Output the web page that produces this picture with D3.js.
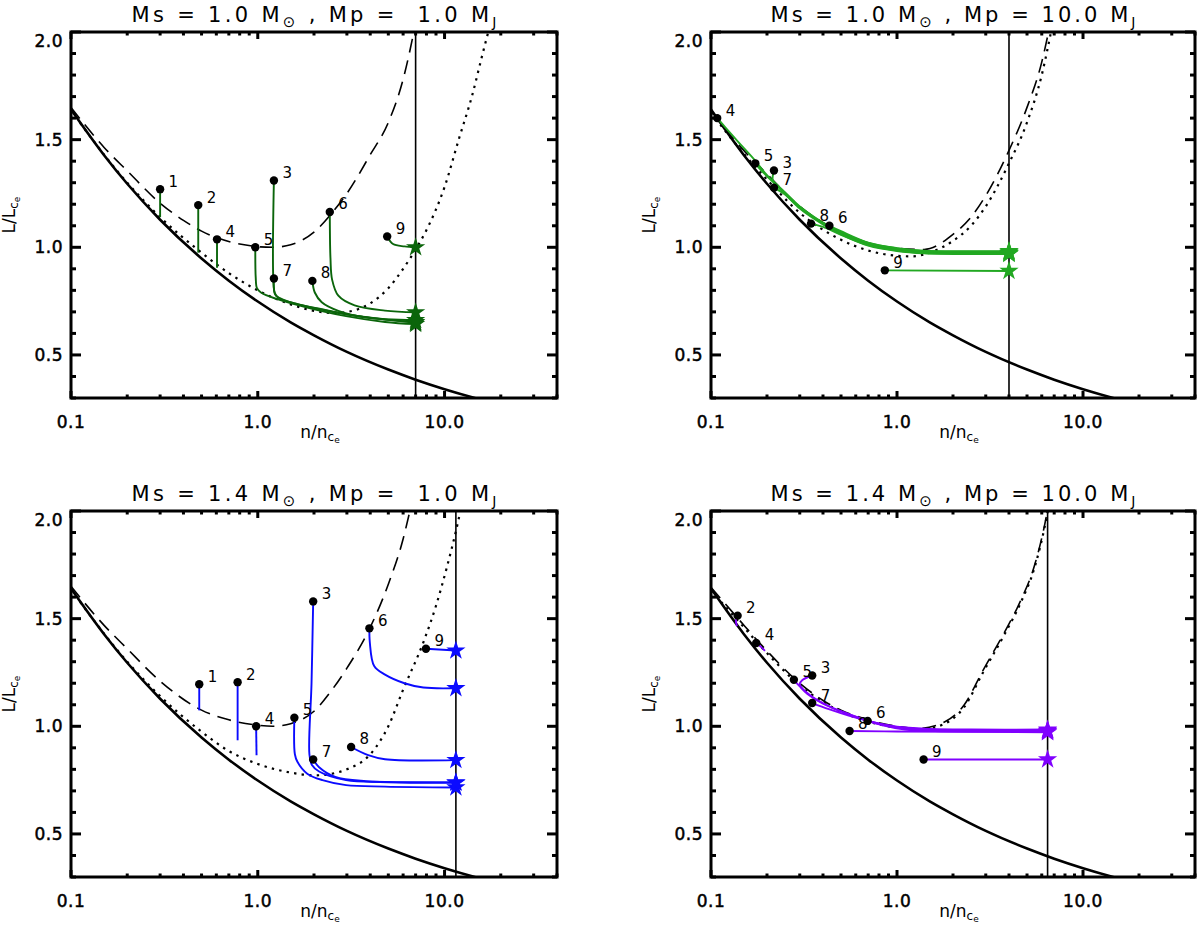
<!DOCTYPE html>
<html>
<head>
<meta charset="utf-8">
<script src="https://cdn.jsdelivr.net/npm/d3@7"></script>
<style>
body { margin: 0; background: #fff; }
svg { display: block; font-family: "DejaVu Sans", sans-serif; }
text { white-space: pre; }
</style>
</head>
<body>
<svg width="1200" height="941"></svg>
<script>
// panel parameters
var panelMs = ["1.0", "1.0", "1.4", "1.4"];
var panelMp = [" 1.0", "10.0", " 1.0", "10.0"];
var nStop = [7.0, 4.0, 11.5, 6.45];
var trackColor = ["#0b650b", "#22a822", "#0b0bff", "#8000ff"];

var xTicks = [0.1, 1, 10], xTickLabels = ["0.1", "1.0", "10.0"];
var yTicks = [0.5, 1.0, 1.5, 2.0], yTickLabels = ["0.5", "1.0", "1.5", "2.0"];

// solid curve, same in all panels
var solidN = [0.1, 0.15, 0.2, 0.3, 0.5, 0.7, 1.0, 1.5, 2.0, 3.0, 5.0, 7.0, 10.0, 15.0, 18.0];
var solidL = [1.640, 1.429, 1.295, 1.128, 0.948, 0.845, 0.748, 0.651, 0.591, 0.514, 0.432, 0.385, 0.341, 0.297, 0.279];

// dashed and dotted curves, one per panel  [n, L]
var dash1 = [[0.1,1.65],[0.15,1.465],[0.2,1.355],[0.3,1.205],[0.4,1.125],[0.5,1.075],[0.6,1.045],[0.8,1.015],[1.0,1.003],[1.2,1.0],[1.5,1.012],[2.0,1.07],[2.5,1.16],[3.0,1.25],[4.0,1.43],[5.0,1.58],[6.0,1.78],[7.0,2.04]];
var dot1 = [[0.1,1.635],[0.2,1.30],[0.3,1.14],[0.5,0.975],[0.7,0.88],[1.0,0.80],[1.5,0.735],[2.0,0.705],[2.5,0.695],[3.0,0.70],[4.0,0.74],[5.0,0.81],[6.0,0.90],[7.0,0.99],[8.0,1.08],[10.0,1.28],[12.0,1.51],[14.0,1.70],[16.0,1.90],[17.5,2.03]];
var dash2 = [[0.1,1.635],[0.15,1.45],[0.2,1.34],[0.3,1.19],[0.5,1.07],[0.7,1.02],[1.0,0.995],[1.4,0.99],[2.0,1.06],[2.5,1.14],[3.0,1.24],[4.0,1.45],[5.0,1.65],[6.0,1.86],[6.6,2.02]];
var dot2 = [[0.1,1.625],[0.15,1.435],[0.2,1.315],[0.3,1.16],[0.5,1.035],[0.7,0.985],[0.9,0.965],[1.2,0.958],[1.5,0.975],[2.0,1.03],[2.5,1.10],[3.0,1.19],[4.0,1.39],[5.0,1.58],[6.0,1.80],[6.8,2.02]];
var dash3 = [[0.1,1.65],[0.15,1.47],[0.2,1.36],[0.3,1.21],[0.5,1.075],[0.7,1.03],[1.0,1.005],[1.2,1.0],[1.5,1.012],[2.0,1.07],[2.5,1.17],[3.0,1.27],[4.0,1.46],[5.0,1.66],[6.0,1.87],[6.6,2.02]];
var dot3 = [[0.1,1.635],[0.2,1.30],[0.3,1.14],[0.5,0.975],[0.7,0.885],[1.0,0.825],[1.5,0.785],[2.0,0.772],[2.5,0.78],[3.0,0.80],[4.0,0.87],[5.0,1.0],[6.0,1.17],[7.7,1.39],[9.0,1.56],[10.3,1.74],[11.6,1.92],[12.3,2.02]];
var dash4 = [[0.1,1.645],[0.14,1.50],[0.2,1.35],[0.3,1.20],[0.4,1.12],[0.5,1.075],[0.7,1.03],[1.0,1.0],[1.3,0.99],[1.8,1.02],[2.3,1.10],[2.9,1.26],[3.8,1.44],[4.6,1.58],[5.5,1.75],[6.2,1.93],[6.5,2.02]];
var dot4 = [[0.1,1.63],[0.14,1.49],[0.2,1.34],[0.3,1.19],[0.4,1.113],[0.5,1.068],[0.7,1.022],[1.0,0.993],[1.3,0.983],[1.8,1.012],[2.3,1.09],[2.9,1.25],[3.8,1.43],[4.6,1.57],[5.5,1.74],[6.2,1.92],[6.5,2.01]];

// evolution tracks: [label, [[n, L], ...]], first point = start (dot)
var tracks1 = [
  ["1", [[0.30,1.27],[0.30,1.14]]],
  ["2", [[0.48,1.196],[0.48,0.975]]],
  ["4", [[0.605,1.037],[0.605,0.905]]],
  ["5", [[0.97,1.0],[0.975,0.86],[0.99,0.81],[1.04,0.79],[1.26,0.76],[1.84,0.72],[2.97,0.68],[4.8,0.653],[7.0,0.643]]],
  ["3", [[1.22,1.31],[1.22,0.81],[1.25,0.775],[1.5,0.745],[2.0,0.718],[3.0,0.688],[4.8,0.664],[7.0,0.652]]],
  ["7", [[1.22,0.855],[1.23,0.79],[1.3,0.763],[1.6,0.738],[2.2,0.712],[3.2,0.685],[5.0,0.663],[7.0,0.65]]],
  ["8", [[1.96,0.844],[2.02,0.79],[2.2,0.745],[2.7,0.705],[3.8,0.674],[7.0,0.662]]],
  ["6", [[2.43,1.164],[2.45,0.95],[2.5,0.85],[2.7,0.775],[3.3,0.73],[4.8,0.706],[7.0,0.698]]],
  ["9", [[4.93,1.05],[5.3,1.015],[6.1,1.004],[7.0,1.0]]]
];
var tracks2 = [
  ["4", [[0.108,1.60],[0.12,1.555],[0.14,1.49],[0.17,1.41],[0.2,1.335],[0.25,1.255],[0.3,1.19],[0.4,1.115],[0.5,1.07],[0.7,1.02],[1.0,0.995],[1.4,0.982],[2.0,0.98],[4.0,0.98]]],
  ["5", [[0.173,1.39],[0.185,1.36],[0.2,1.33],[0.25,1.252],[0.3,1.188],[0.4,1.112],[0.5,1.066],[0.7,1.016],[1.0,0.99],[1.4,0.978],[2.0,0.976],[4.0,0.976]]],
  ["3", [[0.218,1.357],[0.215,1.31],[0.23,1.28],[0.3,1.185],[0.4,1.11],[0.5,1.063],[0.7,1.012],[1.0,0.987],[1.4,0.975],[2.0,0.973],[4.0,0.973]]],
  ["7", [[0.218,1.277],[0.25,1.245],[0.3,1.18],[0.4,1.106],[0.5,1.06],[0.7,1.01],[1.0,0.985],[1.4,0.973],[2.0,0.97],[4.0,0.97]]],
  ["8", [[0.345,1.11],[0.4,1.095],[0.5,1.058],[0.7,1.008],[1.0,0.983],[1.4,0.972],[2.0,0.969],[4.0,0.969]]],
  ["6", [[0.433,1.10],[0.5,1.075],[0.7,1.022],[1.0,0.996],[1.4,0.984],[2.0,0.982],[4.0,0.982]]],
  ["9", [[0.86,0.893],[4.0,0.89]]]
];
var tracks3 = [
  ["1", [[0.486,1.195],[0.486,1.074]]],
  ["2", [[0.78,1.205],[0.78,0.935]]],
  ["4", [[0.98,1.0],[0.985,0.866]]],
  ["5", [[1.57,1.04],[1.58,0.87],[1.63,0.835],[1.84,0.78],[2.22,0.75],[2.97,0.727],[4.8,0.72],[11.5,0.716]]],
  ["3", [[1.98,1.58],[1.94,1.2],[1.89,0.87],[1.95,0.82],[2.13,0.79],[2.97,0.75],[4.8,0.742],[11.5,0.74]]],
  ["7", [[1.98,0.846],[2.13,0.81],[2.6,0.765],[3.8,0.745],[11.5,0.737]]],
  ["8", [[3.16,0.904],[3.9,0.866],[4.8,0.847],[11.5,0.843]]],
  ["6", [[3.96,1.455],[3.98,1.39],[4.2,1.28],[4.8,1.24],[6.1,1.20],[7.7,1.18],[11.5,1.177]]],
  ["9", [[7.95,1.36],[11.5,1.352]]]
];
var tracks4 = [
  ["2", [[0.139,1.514],[0.136,1.49],[0.138,1.465]]],
  ["4", [[0.175,1.387],[0.185,1.37],[0.195,1.35]]],
  ["5", [[0.279,1.216],[0.3,1.185],[0.33,1.15],[0.4,1.105],[0.5,1.07],[0.7,1.025],[1.0,0.998],[1.5,0.988],[2.5,0.985],[6.45,0.985]]],
  ["3", [[0.35,1.236],[0.31,1.215],[0.3,1.195],[0.34,1.145],[0.45,1.085],[0.6,1.045],[0.8,1.01],[1.1,0.993],[1.6,0.984],[6.45,0.982]]],
  ["7", [[0.35,1.108],[0.43,1.08],[0.55,1.05],[0.7,1.025],[1.0,0.996],[1.5,0.982],[6.45,0.978]]],
  ["6", [[0.695,1.025],[0.85,1.003],[1.1,0.985],[1.6,0.978],[6.45,0.975]]],
  ["8", [[0.556,0.978],[1.0,0.976],[6.45,0.972]]],
  ["9", [[1.39,0.846],[6.45,0.846]]]
];

var dashSets = [dash1, dash2, dash3, dash4];
var dotSets = [dot1, dot2, dot3, dot4];
var trackSets = [tracks1, tracks2, tracks3, tracks4];

var svg = d3.select("svg");
var boxes = [
  {x0: 71, x1: 557, y0: 32, y1: 398},
  {x0: 711, x1: 1195, y0: 32, y1: 398},
  {x0: 71, x1: 557, y0: 511, y1: 877},
  {x0: 711, x1: 1195, y0: 511, y1: 877}
];

boxes.forEach(function(b, i) {
  var x = d3.scaleLog().domain([0.1, 40]).range([b.x0, b.x1]);
  var y = d3.scaleLinear().domain([0.3, 2.0]).range([b.y1, b.y0]);
  var g = svg.append("g");

  svg.append("clipPath").attr("id", "clip" + i)
    .append("rect").attr("x", b.x0).attr("y", b.y0)
    .attr("width", b.x1 - b.x0).attr("height", b.y1 - b.y0);

  var plot = g.append("g").attr("clip-path", "url(#clip" + i + ")");

  var smooth = d3.line().x(d => x(d[0])).y(d => y(d[1])).curve(d3.curveMonotoneX);
  var trackLine = d3.line().x(d => x(d[0])).y(d => y(d[1])).curve(d3.curveCatmullRom.alpha(0.5));

  plot.append("path").datum(d3.zip(solidN, solidL))
    .attr("d", smooth).attr("fill", "none").attr("stroke", "#000").attr("stroke-width", 2.6);
  plot.append("path").datum(dashSets[i])
    .attr("d", smooth).attr("fill", "none").attr("stroke", "#000").attr("stroke-width", 1.6)
    .attr("stroke-dasharray", "14,8");
  plot.append("path").datum(dotSets[i])
    .attr("d", smooth).attr("fill", "none").attr("stroke", "#000").attr("stroke-width", 2.2)
    .attr("stroke-dasharray", "2.4,5.2");

  plot.append("line")
    .attr("x1", x(nStop[i])).attr("x2", x(nStop[i]))
    .attr("y1", b.y0).attr("y2", b.y1)
    .attr("stroke", "#000").attr("stroke-width", 1.6);

  var tracks = trackSets[i];
  plot.selectAll(".track").data(tracks).enter().append("path")
    .attr("d", d => trackLine(d[1]))
    .attr("fill", "none").attr("stroke", trackColor[i]).attr("stroke-width", 1.9);

  var star = d3.symbol().type(d3.symbolStar).size(115);
  plot.selectAll(".star").data(tracks.filter(d => d[1][d[1].length - 1][0] === nStop[i]))
    .enter().append("path")
    .attr("d", star)
    .attr("transform", d => { var p = d[1][d[1].length - 1]; return "translate(" + x(p[0]) + "," + y(p[1]) + ")"; })
    .attr("fill", trackColor[i]);

  plot.selectAll(".dot").data(tracks).enter().append("circle")
    .attr("cx", d => x(d[1][0][0])).attr("cy", d => y(d[1][0][1]))
    .attr("r", 4.2).attr("fill", "#000");

  g.selectAll(".lab").data(tracks).enter().append("text")
    .attr("x", d => x(d[1][0][0]) + 8.5).attr("y", d => y(d[1][0][1]) - 2.5)
    .attr("font-size", 15).text(d => d[0]);

  // frame
  g.append("rect").attr("x", b.x0).attr("y", b.y0)
    .attr("width", b.x1 - b.x0).attr("height", b.y1 - b.y0)
    .attr("fill", "none").attr("stroke", "#000").attr("stroke-width", 3);

  // x ticks (log)
  x.ticks().forEach(function(v) {
    var major = xTicks.some(t => Math.abs(t - v) < 1e-9);
    var len = major ? 7 : 3.5;
    g.append("line").attr("x1", x(v)).attr("x2", x(v)).attr("y1", b.y1).attr("y2", b.y1 - len)
      .attr("stroke", "#000").attr("stroke-width", 3);
    g.append("line").attr("x1", x(v)).attr("x2", x(v)).attr("y1", b.y0).attr("y2", b.y0 + len)
      .attr("stroke", "#000").attr("stroke-width", 3);
  });
  // y ticks
  d3.range(3, 21).forEach(function(k) {
    var v = k / 10, len = (k % 5 === 0) ? 10 : 5;
    g.append("line").attr("x1", b.x0).attr("x2", b.x0 + len).attr("y1", y(v)).attr("y2", y(v))
      .attr("stroke", "#000").attr("stroke-width", 3);
    g.append("line").attr("x1", b.x1).attr("x2", b.x1 - len).attr("y1", y(v)).attr("y2", y(v))
      .attr("stroke", "#000").attr("stroke-width", 3);
  });

  g.selectAll(".xl").data(xTicks).enter().append("text")
    .attr("x", d => x(d)).attr("y", b.y1 + 30)
    .attr("text-anchor", "middle").attr("font-size", 17).attr("letter-spacing", 0.5)
    .attr("stroke", "#000").attr("stroke-width", 0.5)
    .text((d, j) => xTickLabels[j]);
  g.selectAll(".yl").data(yTicks).enter().append("text")
    .attr("x", b.x0 - 8).attr("y", d => Math.max(y(d) + 6, b.y0 + 15))
    .attr("text-anchor", "end").attr("font-size", 17).attr("letter-spacing", 0.5)
    .attr("stroke", "#000").attr("stroke-width", 0.5)
    .text((d, j) => yTickLabels[j]);

  // title
  var t = g.append("text").attr("x", (b.x0 + b.x1) / 2).attr("y", b.y0 - 10)
    .attr("text-anchor", "middle").attr("font-size", 21)
    .attr("textLength", 365).attr("lengthAdjust", "spacing");
  t.append("tspan").text("Ms = " + panelMs[i] + " M");
  t.append("tspan").attr("font-size", 15).attr("dy", 5).text("\u2299");
  t.append("tspan").attr("dy", -5).text(" , Mp = " + panelMp[i] + " M");
  t.append("tspan").attr("font-size", 14).attr("dy", 5).text("J");

  // x axis title
  var xt = g.append("text").attr("x", (b.x0 + b.x1) / 2 + 6).attr("y", b.y1 + 40)
    .attr("text-anchor", "middle").attr("font-size", 17);
  xt.append("tspan").text("n/n");
  xt.append("tspan").attr("font-size", 12).attr("dy", 3).text("c");
  xt.append("tspan").attr("font-size", 9).attr("dy", 2).text("e");

  // y axis title
  var yt = g.append("text")
    .attr("transform", "translate(" + (b.x0 - 56) + "," + ((b.y0 + b.y1) / 2) + ") rotate(-90)")
    .attr("text-anchor", "middle").attr("font-size", 17);
  yt.append("tspan").text("L/L");
  yt.append("tspan").attr("font-size", 12).attr("dy", 3).text("c");
  yt.append("tspan").attr("font-size", 9).attr("dy", 2).text("e");
});
</script>
</body>
</html>
